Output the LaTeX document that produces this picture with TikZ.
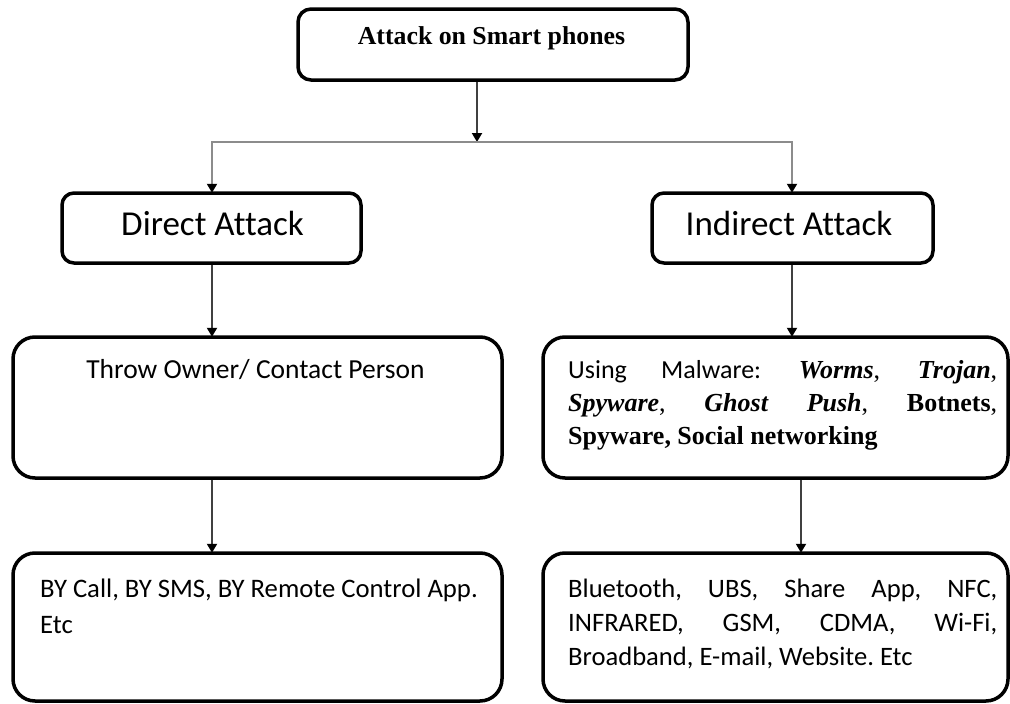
\documentclass[tikz,border=0pt]{standalone}
\usepackage{fontspec}
\setmainfont{Liberation Serif}
\newfontfamily\calib[Ligatures=NoCommon]{Carlito}
\usetikzlibrary{arrows.meta}
\frenchspacing
\begin{document}
\begin{tikzpicture}[x=1pt,y=-1pt,
  box/.style={draw, line width=3.5pt, rounded corners=#1, inner sep=0pt},
  box/.default=22pt,
  tip/.style={-{Triangle[width=10pt,length=9pt,color=black]}},
  conn/.style={line width=2pt, draw=black!75, tip},
  bus/.style={line width=2pt, draw=black!45},
  sanslbl/.style={font=\calib\fontsize{27.5}{33}\selectfont, inner sep=0pt, anchor=base},
  headlbl/.style={font=\calib\fontsize{35}{40}\selectfont, inner sep=0pt, anchor=base},
  para/.style={inner sep=0pt, anchor=base west}
]
\useasboundingbox (0,0) rectangle (1010,704);

% boxes
\node[box=13pt, minimum width=390pt, minimum height=71pt] (top) at (493,44.5) {};
\node[box=12pt, minimum width=299pt, minimum height=70pt] (direct) at (211.5,228) {};
\node[box=12pt, minimum width=281pt, minimum height=70pt] (indirect) at (792.5,228) {};
\node[box, minimum width=489pt, minimum height=141pt] (throw) at (257.5,407.5) {};
\node[box, minimum width=465pt, minimum height=141pt] (malware) at (775.5,407.5) {};
\node[box, minimum width=489pt, minimum height=148pt] (bycall) at (257.5,627) {};
\node[box, minimum width=465pt, minimum height=148pt] (bluetooth) at (775.5,627) {};

% texts
\node[inner sep=0pt, anchor=base, font=\bfseries\fontsize{25.8}{30}\selectfont] (toptext) at (491.5,45) {Attack on Smart phones};
\node[headlbl] (directtext) at (212.5,235) {Direct Attack};
\node[headlbl] (indirecttext) at (789,235) {Indirect Attack};
\node[sanslbl] (throwtext) at (255.5,378) {Throw Owner/ Contact Person};
\node[para] (malwaretext) at (568,378) {\parbox[t]{429pt}{\fontsize{26}{33}\selectfont
  {\calib Using Malware:} \textbf{\textit{Worms}}, \textbf{\textit{Trojan}},\linebreak
  \textbf{\textit{Spyware}}, \textbf{\textit{Ghost Push}}, \textbf{Botnets},\linebreak
  \textbf{Spyware, Social networking}}};
\node[para] (bycalltext) at (40,597) {\parbox[t]{455pt}{\calib\fontsize{26.7}{36}\selectfont\raggedright
  BY Call, BY SMS, BY Remote Control App.\\ Etc}};
\node[para] (bluetext) at (568,597) {\parbox[t]{429pt}{\calib\fontsize{26.6}{34}\selectfont
  Bluetooth, UBS, Share App, NFC,\linebreak
  INFRARED, GSM, CDMA, Wi-Fi,\linebreak
  Broadband, E-mail, Website. Etc}};

% connectors
\coordinate (split) at (477,142);
\coordinate (br) at (792,142);
\coordinate (ll) at (212,0);
\coordinate (rl) at (801,0);
\draw[conn] (top.south -| split) -- (split);
\draw[bus, {Triangle[width=10pt,length=9pt,color=black]}-{Triangle[width=10pt,length=9pt,color=black]}]
  ([yshift=-1.5pt]direct.north -| ll) |- (br) -- ([yshift=-1.5pt]indirect.north -| br);
\draw[conn] (direct.south -| ll) -- ([yshift=-1.5pt]throw.north -| ll);
\draw[conn] (indirect.south -| br) -- ([yshift=-1.5pt]malware.north -| br);
\draw[conn] (throw.south -| ll) -- ([yshift=-1.5pt]bycall.north -| ll);
\draw[conn] (malware.south -| rl) -- ([yshift=-1.5pt]bluetooth.north -| rl);
\end{tikzpicture}
\end{document}
